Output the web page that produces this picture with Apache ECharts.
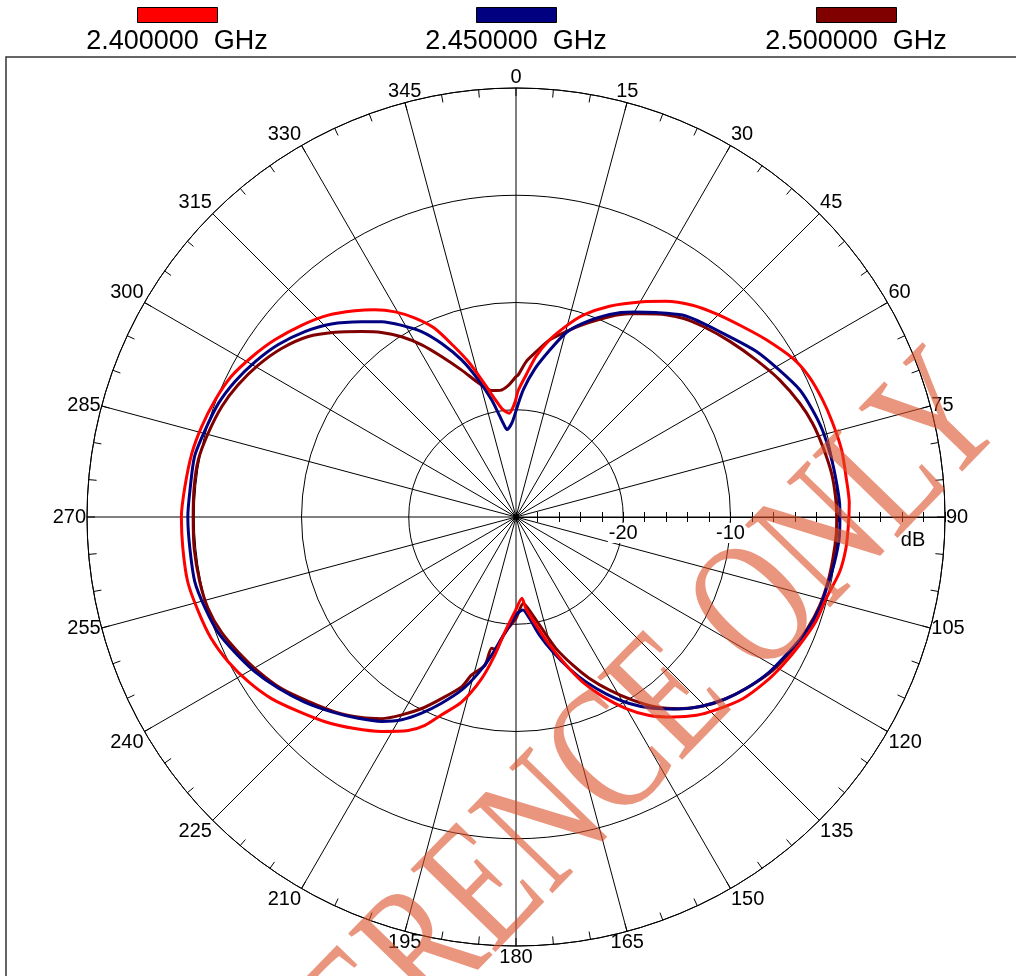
<!DOCTYPE html>
<html>
<head>
<meta charset="utf-8">
<script src="https://cdn.jsdelivr.net/npm/echarts@6/dist/echarts.min.js"></script>
<style>
html,body{margin:0;padding:0;background:#fff;}
#main{width:1016px;height:976px;}
</style>
</head>
<body>
<div id="main"></div>
<script>
// ---- data: [angle (deg, clockwise from top), gain (dB)] ----
const seriesNames = ['2.400000  GHz', '2.450000  GHz', '2.500000  GHz'];
const seriesColors = ['#FF0000', '#000080', '#800000'];

const red = [[0,-19.0],[1.0,-18.2],[4.1,-16.7],[7.1,-14.9],[10.7,-13.2],[14.7,-11.6],[18.3,-10.2],[23.9,-8.5],[30.5,-6.7],[34.8,-5.5],[39.8,-4.3],[44.6,-3.4],[50.0,-2.4],[54.7,-1.4],[60.2,-0.25],[64.4,0.3],[69.1,0.6],[73.5,0.8],[78.4,1.0],[83.0,1.0],[87.6,1.1],[91.4,1.0],[95.4,0.9],[99.7,0.6],[104.7,-0.1],[109.2,-0.4],[114.3,-1.0],[119.0,-1.55],[123.4,-2.1],[128.7,-2.9],[134.0,-4.1],[137.7,-5.0],[141.9,-6.3],[146.1,-7.7],[150.1,-9.4],[154.2,-11.4],[158.0,-13.4],[161.3,-15.4],[165.4,-17.7],[169.5,-19.75],[173.8,-21.4],[175.8,-22.4],[180.6,-21.2],[185.5,-19.25],[188.7,-17.0],[192.0,-14.6],[196.4,-12.0],[200.6,-10.3],[203.6,-8.8],[206.8,-7.7],[212.1,-6.4],[217.3,-5.2],[223.0,-3.9],[228.2,-2.8],[233.4,-1.6],[238.4,-0.7],[243.3,0.04],[248.3,0.6],[253.4,0.9],[258.8,1.2],[264.6,1.2],[270,1.2],[275.2,1.0],[281.1,0.8],[286.0,0.5],[291.2,0.1],[296.3,-0.4],[301.2,-1.2],[306.3,-2.1],[311.9,-3.2],[317.1,-4.3],[322.0,-5.6],[325.7,-6.6],[329.5,-7.8],[333.1,-9.2],[336.6,-10.8],[339.9,-13.0],[343.2,-15.0],[346.6,-17.2],[349.8,-18.8],[352.5,-19.8],[354.9,-20.2],[356.3,-20.3],[358.6,-19.7],[360,-19.0]];

const blue = [[0,-20.1],[3.3,-18.1],[7.2,-16.1],[11.3,-14.2],[15.2,-12.2],[19.0,-10.9],[24.8,-9.2],[29.7,-8.0],[34.4,-6.9],[39.5,-5.6],[43.9,-4.9],[49.8,-3.95],[55.4,-2.8],[60.8,-1.9],[65.9,-1.0],[70.2,-0.6],[74.2,-0.3],[79.2,-0.1],[83.4,0.04],[87.6,0.2],[90,0.2],[93.8,0.2],[98.0,0.0],[102.3,-0.25],[106.8,-0.45],[111.6,-0.9],[116.2,-1.6],[121.4,-2.3],[126.7,-3.25],[131.5,-4.25],[136.0,-5.4],[140.2,-6.7],[144.5,-8.1],[148.7,-9.65],[153.0,-11.5],[157.0,-13.3],[160.6,-15.0],[164.8,-17.0],[168.8,-18.8],[172.5,-20.5],[175.7,-21.3],[180,-20.9],[182.4,-20.2],[186.1,-18.9],[190.0,-16.9],[193.6,-15.0],[197.4,-13.1],[201.8,-11.3],[205.7,-9.7],[209.4,-8.3],[213.3,-7.2],[218.1,-6.15],[223.4,-5.0],[228.8,-3.8],[234.2,-2.7],[239.4,-1.7],[244.4,-0.9],[248.9,-0.2],[253.6,0.2],[258.6,0.55],[264.5,0.55],[270,0.6],[274.7,0.5],[280.6,0.5],[285.6,0.1],[290.9,-0.3],[295.7,-0.9],[300.8,-1.7],[305.9,-2.6],[311.3,-3.8],[316.3,-5.1],[321.7,-6.8],[325.5,-7.9],[329.2,-9.2],[333.0,-10.6],[336.8,-12.4],[340.9,-14.5],[344.6,-16.7],[348.3,-18.85],[350.9,-20.5],[352.3,-21.2],[354.1,-21.8],[357.4,-21.25],[360,-20.1]];

const darkred = [[0,-16.9],[0.9,-16.75],[3.7,-15.5],[6.9,-14.5],[10.7,-13.2],[15.1,-12.1],[19.2,-11.0],[25.0,-9.4],[29.2,-8.3],[34.6,-7.0],[40.0,-5.8],[44.5,-5.1],[50.6,-4.2],[56.8,-3.25],[62.5,-2.3],[68.1,-1.5],[72.5,-1.0],[77.1,-0.65],[82.1,-0.3],[86.4,-0.15],[90,-0.1],[93.2,-0.1],[97.4,-0.2],[101.7,-0.3],[106.2,-0.5],[110.9,-0.9],[115.4,-1.4],[120.8,-2.1],[126.0,-3.1],[130.8,-4.1],[135.3,-5.2],[139.5,-6.5],[143.6,-8.0],[147.5,-9.75],[151.7,-11.7],[155.6,-13.5],[159.0,-15.2],[163.1,-17.2],[166.7,-19.2],[170.3,-20.7],[175.2,-21.9],[180,-20.55],[184.0,-19.6],[187.3,-18.3],[188.3,-17.5],[190.5,-17.55],[191.8,-15.9],[195.7,-14.7],[197.7,-13.4],[202.3,-11.7],[206.2,-10.1],[210.0,-8.7],[213.7,-7.4],[217.6,-6.4],[222.9,-5.2],[228.4,-4.1],[233.8,-2.9],[239.0,-2.0],[244.1,-1.2],[248.7,-0.5],[253.5,-0.05],[258.4,0.1],[264.4,0.15],[270,0.1],[275.4,0.14],[280.2,0.1],[285.2,-0.25],[290.6,-0.7],[295.4,-1.3],[300.5,-2.1],[305.8,-3.1],[311.0,-4.35],[315.6,-5.9],[320.2,-7.5],[323.9,-8.7],[327.6,-10.1],[331.3,-11.7],[335.1,-13.5],[339.7,-15.4],[344.3,-17.0],[349.1,-18.0],[352.8,-18.1],[356.7,-17.7],[360,-16.9]];

const radiusMin = -30, radiusMax = 10;
const radiusLabelValues = [-20, -10];
const radiusUnit = 'dB';
const watermarkText = 'REFERENCE ONLY';

// ---- chart ----
const chart = echarts.init(document.getElementById('main'));
const C = [516, 517], R = 429;
const FONT = 'Liberation Sans';
const allData = [red, blue, darkred];

const series = allData.map((d, i) => ({
  name: seriesNames[i],
  type: 'line',
  coordinateSystem: 'polar',
  polarIndex: 0,
  showSymbol: false,
  smooth: 0.25,
  z: 10 - i,
  lineStyle: { color: seriesColors[i], width: 3 },
  itemStyle: { color: seriesColors[i] },
  data: d.map(p => [p[1], p[0]])
}));

const legendX = [137, 476, 816];
const legends = seriesNames.map((n, i) => ({
  data: [n], left: legendX[i], top: 7, padding: 0,
  itemWidth: 80, itemHeight: 15, icon: 'rect', selectedMode: false,
  itemStyle: { borderColor: '#000', borderWidth: 1 },
  formatter: () => ''
}));

const graphics = [
  { type: 'rect', shape: { x: 6, y: 57, width: 1100, height: 1000 }, style: { fill: 'none', stroke: '#333', lineWidth: 1.5 }, z: 0 },
  ...seriesNames.map((n, i) => ({
    type: 'text', x: legendX[i] + 40, y: 42, z: 5,
    style: { text: n, fontSize: 27, fontFamily: FONT, fill: '#000', align: 'center', verticalAlign: 'middle', textAlign: 'center', textVerticalAlign: 'middle' }
  })),
  { type: 'text', x: 913, y: 540, z: 5,
    style: { text: radiusUnit, fontSize: 20, fontFamily: FONT, fill: '#000', align: 'center', verticalAlign: 'middle', textAlign: 'center', textVerticalAlign: 'middle' } },
  { type: 'text', x: 572, y: 805, rotation: 0.80, scaleY: 1.35, z: 200,
    style: { text: watermarkText, fontSize: 134, fontFamily: 'Liberation Serif', fill: 'rgba(220,80,40,0.6)', align: 'center', verticalAlign: 'middle', textAlign: 'center', textVerticalAlign: 'middle' } }
];

const option = {
  animation: false,
  backgroundColor: '#fff',
  polar: [
    { center: C, radius: R },
    { center: C, radius: R },
    { center: C, radius: R }
  ],
  angleAxis: [
    { polarIndex: 0, type: 'value', min: 0, max: 360, interval: 15, startAngle: 90, clockwise: true,
      axisLine: { show: true, lineStyle: { color: '#000', width: 1 } },
      axisTick: { show: true, inside: true, length: 8, lineStyle: { color: '#000' } },
      minorTick: { show: true, splitNumber: 3, length: 8, lineStyle: { color: '#000', width: 1 } },
      splitLine: { show: true, lineStyle: { color: '#000', width: 1 } },
      axisLabel: { show: true, fontSize: 20, fontFamily: FONT, color: '#000', margin: 1 } },
    { polarIndex: 1, type: 'value', min: 0, max: 360, startAngle: 0, clockwise: true, show: false },
    { polarIndex: 2, type: 'value', min: 0, max: 360, startAngle: 0, clockwise: true, show: false }
  ],
  radiusAxis: [
    { polarIndex: 0, type: 'value', min: radiusMin, max: radiusMax, interval: 10,
      axisLine: { show: false }, axisTick: { show: false }, axisLabel: { show: false },
      splitLine: { show: true, lineStyle: { color: '#000', width: 1 } } },
    { polarIndex: 1, type: 'value', min: radiusMin, max: radiusMax, interval: 2, z: 3,
      axisLine: { show: true, lineStyle: { color: '#000', width: 1 } },
      axisTick: { show: true, length: 5, lineStyle: { color: '#000' } },
      splitLine: { show: false },
      axisLabel: { show: true, fontSize: 20, fontFamily: FONT, color: '#000', margin: -26,
        backgroundColor: '#fff', padding: [0, 1, 0, 1],
        formatter: v => radiusLabelValues.indexOf(Math.round(v)) >= 0 ? String(Math.round(v)) : '' } },
    { polarIndex: 2, type: 'value', min: radiusMin, max: radiusMax, interval: 2,
      axisLine: { show: false },
      axisTick: { show: true, length: -5, lineStyle: { color: '#000' } },
      splitLine: { show: false }, axisLabel: { show: false } }
  ],
  legend: legends,
  series: series,
  graphic: graphics
};
chart.setOption(option);
</script>
</body>
</html>
